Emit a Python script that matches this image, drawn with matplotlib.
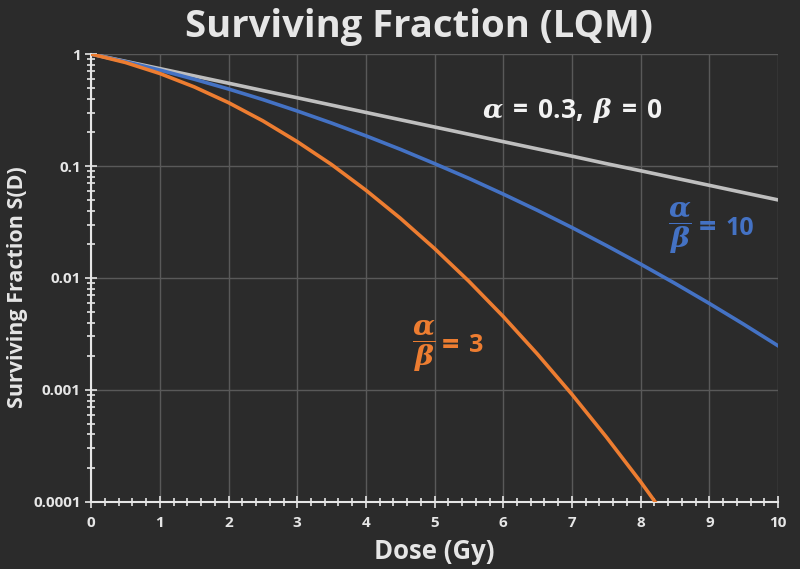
import matplotlib
matplotlib.use("Agg")
import matplotlib.pyplot as plt
from matplotlib.ticker import LogLocator, MultipleLocator, FixedLocator, NullFormatter

# values (dose in Gy, surviving fraction)
dose = [0, 0.5, 1, 1.5, 2, 2.5, 3, 3.5, 4, 4.5, 5, 5.5, 6, 6.5, 7, 7.5, 8, 8.5, 9, 9.5, 10]
sf_alpha_only = [1, 0.861, 0.741, 0.638, 0.549, 0.472, 0.407, 0.350, 0.301, 0.259, 0.223,
                 0.192, 0.165, 0.142, 0.1225, 0.105, 0.0907, 0.0781, 0.0672, 0.0578, 0.0498]
sf_ab10 = [1, 0.854, 0.719, 0.596, 0.487, 0.392, 0.310, 0.242, 0.186, 0.141, 0.105,
           0.0775, 0.0561, 0.0401, 0.0282, 0.0195, 0.0133, 0.00894, 0.00592, 0.00386, 0.00248]
sf_ab3 = [1, 0.840, 0.670, 0.509, 0.368, 0.253, 0.165, 0.103, 0.0608, 0.0342, 0.0183,
          0.00933, 0.00452, 0.00208, 0.000912, 0.000380, 0.000151, 0.0000569]
dose_ab3 = dose[:len(sf_ab3)]

x_ticks = [0, 1, 2, 3, 4, 5, 6, 7, 8, 9, 10]
y_ticks = [0.0001, 0.001, 0.01, 0.1, 1]
y_labels = ["0.0001", "0.001", "0.01", "0.1", "1"]

bg = "#2b2b2b"
fg = "#e6e6e6"
blue = "#4472c4"
orange = "#ed7d31"
plt.rcParams["font.family"] = ["Open Sans", "DejaVu Sans"]
plt.rcParams["font.weight"] = "bold"
plt.rcParams["mathtext.fontset"] = "custom"
plt.rcParams["mathtext.it"] = "DejaVu Serif:italic:bold"
plt.rcParams["mathtext.rm"] = "Open Sans:bold"
plt.rcParams["mathtext.bf"] = "Open Sans:bold"

fig = plt.figure(figsize=(8, 5.69), dpi=100, facecolor=bg)
ax = fig.add_axes([0.114, 0.118, 0.8585, 0.787])
ax.set_facecolor(bg)

ax.plot(dose, sf_alpha_only, color="#bfbfbf", lw=2.6, zorder=3)
ax.plot(dose, sf_ab10, color=blue, lw=2.6, zorder=3)
ax.plot(dose_ab3, sf_ab3, color=orange, lw=2.6, zorder=3)

ax.set_yscale("log")
ax.set_xlim(0, 10)
ax.set_ylim(0.0001, 1)
ax.xaxis.set_major_locator(FixedLocator(x_ticks))
ax.xaxis.set_minor_locator(MultipleLocator(0.2))
ax.yaxis.set_major_locator(FixedLocator(y_ticks))
ax.set_yticklabels(y_labels)
ax.yaxis.set_minor_locator(LogLocator(base=10, subs=range(2, 10)))
ax.yaxis.set_minor_formatter(NullFormatter())

ax.grid(True, which="major", color="#595959", lw=1)
for s in ["top", "right"]:
    ax.spines[s].set_visible(False)
for s in ["left", "bottom"]:
    ax.spines[s].set_color(fg)
    ax.spines[s].set_linewidth(1.5)

ax.tick_params(which="both", direction="inout", colors=fg, labelsize=11)
ax.tick_params(which="major", length=8, width=1.2)
ax.tick_params(which="minor", length=6, width=1.2)
ax.tick_params(axis="x", pad=6)
for lab in ax.get_xticklabels() + ax.get_yticklabels():
    lab.set_fontweight("bold")

fig.text(0.524, 0.952, "Surviving Fraction (LQM)", color=fg, fontsize=27.5,
         fontweight="bold", ha="center", va="center")
ax.set_xlabel("Dose (Gy)", color=fg, fontsize=18.5, fontweight="bold", labelpad=6)
ax.set_ylabel("Surviving Fraction S(D)", color=fg, fontsize=15.5, fontweight="bold")
ax.yaxis.set_label_coords(-0.092, 0.48)

ax.text(7.0, 0.316, r"$\alpha\,=\,\mathbf{0.3},\,\beta\,=\,\mathbf{0}$", color="#f2f2f2",
        fontsize=19, ha="center", va="center")

# alpha/beta labels: big fraction + "= n"
ax.text(8.40, 0.0279, r"$\dfrac{\alpha}{\beta}$", color=blue, fontsize=20.5,
        ha="left", va="center")
ax.text(8.85, 0.0279, "=", color=blue, fontsize=22, fontweight="bold",
        ha="left", va="center")
ax.text(9.24, 0.0279, "10", color=blue, fontsize=18, fontweight="bold",
        ha="left", va="center")
ax.text(4.67, 0.00247, r"$\dfrac{\alpha}{\beta}$", color=orange, fontsize=20.5,
        ha="left", va="center")
ax.text(5.11, 0.00247, "=", color=orange, fontsize=22, fontweight="bold",
        ha="left", va="center")
ax.text(5.50, 0.00247, "3", color=orange, fontsize=18, fontweight="bold",
        ha="left", va="center")

fig.savefig("out.png", dpi=100, facecolor=bg)
